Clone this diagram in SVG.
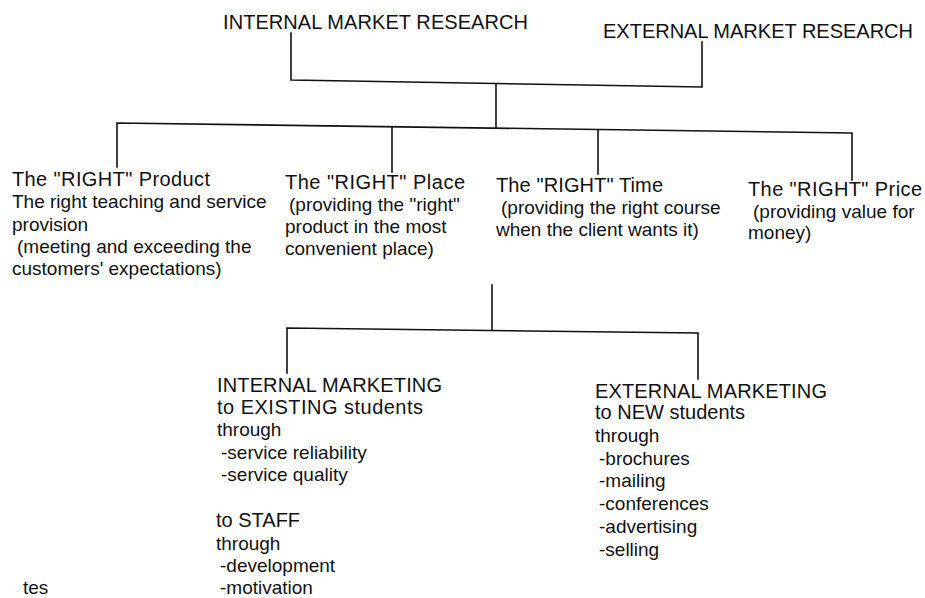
<svg xmlns="http://www.w3.org/2000/svg" width="925" height="598" viewBox="0 0 925 598">
  <style>
    text { font-family: "Liberation Sans", Arial, Helvetica, sans-serif; fill: #111; }
    .h { font-size: 20px; }
    .t { font-size: 20px; }
    .b { font-size: 19px; }
    .wire { fill: none; stroke: #111; stroke-width: 1.6; stroke-linecap: square; }
  </style>
  <rect width="925" height="598" fill="#ffffff"/>

  <!-- connectors -->
  <g id="connectors" class="wire">
    <!-- research bracket -->
    <path d="M291,33 V80 L702,87 V42"/>
    <path d="M496,84 V128"/>
    <!-- four "RIGHT" branches -->
    <path d="M117,167 V123 L852,133 V180"/>
    <path d="M392,127 V172"/>
    <path d="M598,130 V174"/>
    <!-- marketing bracket -->
    <path d="M492,285 V330"/>
    <path d="M287,373 V328 L698,333 V379"/>
  </g>

  <g id="internal-research">
    <text class="h" x="223" y="29" textLength="305" lengthAdjust="spacing">INTERNAL MARKET RESEARCH</text>
  </g>
  <g id="external-research">
    <text class="h" x="603" y="38" textLength="310" lengthAdjust="spacing">EXTERNAL MARKET RESEARCH</text>
  </g>

  <g id="right-product">
    <text class="t" x="12" y="186" textLength="198" lengthAdjust="spacing">The "RIGHT" Product</text>
    <text class="b" x="12" y="208">The right teaching and service</text>
    <text class="b" x="12" y="231">provision</text>
    <text class="b" x="17" y="253">(meeting and exceeding the</text>
    <text class="b" x="12" y="275">customers' expectations)</text>
  </g>

  <g id="right-place">
    <text class="t" x="285" y="189" textLength="180" lengthAdjust="spacing">The "RIGHT" Place</text>
    <text class="b" x="289" y="211">(providing the "right"</text>
    <text class="b" x="285" y="233">product in the most</text>
    <text class="b" x="285" y="255">convenient place)</text>
  </g>

  <g id="right-time">
    <text class="t" x="496" y="192" textLength="167" lengthAdjust="spacing">The "RIGHT" Time</text>
    <text class="b" x="501" y="214">(providing the right course</text>
    <text class="b" x="496" y="236">when the client wants it)</text>
  </g>

  <g id="right-price">
    <text class="t" x="748" y="196" textLength="174" lengthAdjust="spacing">The "RIGHT" Price</text>
    <text class="b" x="753" y="218">(providing value for</text>
    <text class="b" x="748" y="239">money)</text>
  </g>

  <g id="internal-marketing">
    <text class="t" x="217" y="392" textLength="225" lengthAdjust="spacing">INTERNAL MARKETING</text>
    <text class="t" x="217" y="414" textLength="206" lengthAdjust="spacing">to EXISTING students</text>
    <text class="b" x="217" y="436">through</text>
    <text class="b" x="221" y="459">-service reliability</text>
    <text class="b" x="221" y="481">-service quality</text>
    <text class="t" x="216" y="527">to STAFF</text>
    <text class="b" x="216" y="550">through</text>
    <text class="b" x="220" y="572">-development</text>
    <text class="b" x="220" y="594">-motivation</text>
  </g>

  <g id="external-marketing">
    <text class="t" x="595" y="398" textLength="232" lengthAdjust="spacing">EXTERNAL MARKETING</text>
    <text class="t" x="595" y="419">to NEW students</text>
    <text class="b" x="595" y="442">through</text>
    <text class="b" x="599" y="465">-brochures</text>
    <text class="b" x="599" y="487">-mailing</text>
    <text class="b" x="599" y="510">-conferences</text>
    <text class="b" x="599" y="533">-advertising</text>
    <text class="b" x="599" y="556">-selling</text>
  </g>

  <g id="margin-note">
    <text class="b" x="23" y="594">tes</text>
  </g>
</svg>
